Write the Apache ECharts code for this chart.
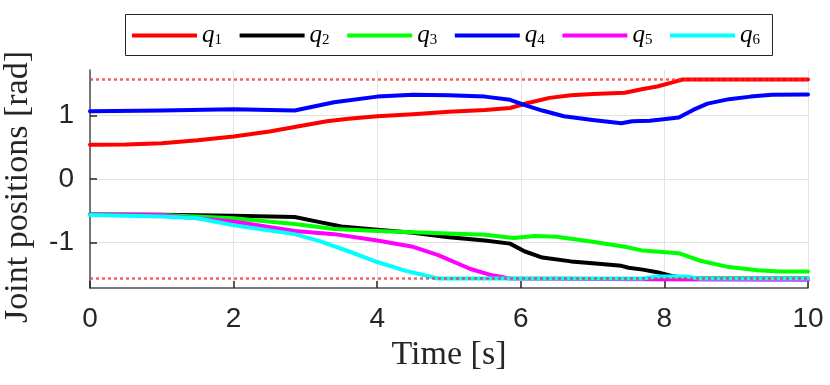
<!DOCTYPE html>
<html>
<head>
<meta charset="utf-8">
<script src="https://cdn.jsdelivr.net/npm/echarts@6/dist/echarts.min.js"></script>
<style>
    html, body { margin: 0; padding: 0; background: #fff; }
    #chart { width: 830px; height: 385px; }
</style>
</head>
<body>
<div id="chart"></div>
<script>
    // joint trajectories, [time (s), angle (rad)]
    var q1 = [[0, 0.54], [0.5, 0.545], [1, 0.565], [1.5, 0.61], [2, 0.67], [2.5, 0.75], [2.85, 0.82],
        [3.3, 0.91], [3.6, 0.95], [4, 0.99], [4.5, 1.02], [5, 1.06], [5.5, 1.09], [5.85, 1.12],
        [6.1, 1.2], [6.4, 1.28], [6.7, 1.32], [7, 1.34], [7.45, 1.36], [7.7, 1.42], [7.9, 1.46],
        [8.1, 1.52], [8.25, 1.57], [10, 1.57]]
    var q2 = [[0, -0.56], [1, -0.565], [2, -0.58], [2.85, -0.6], [3.2, -0.68], [3.5, -0.75], [4, -0.8],
        [4.5, -0.85], [5, -0.92], [5.5, -0.97], [5.85, -1.02], [6.05, -1.14], [6.3, -1.24], [6.7, -1.3],
        [7, -1.33], [7.4, -1.37], [7.5, -1.4], [7.7, -1.43], [7.9, -1.47], [8.1, -1.53], [8.3, -1.57],
        [10, -1.57]]
    var q3 = [[0, -0.56], [1, -0.57], [2, -0.62], [2.85, -0.71], [3.4, -0.79], [4, -0.82], [4.5, -0.84],
        [5, -0.86], [5.5, -0.88], [5.9, -0.93], [6.2, -0.9], [6.5, -0.91], [7, -0.99], [7.45, -1.07],
        [7.7, -1.13], [8.2, -1.17], [8.5, -1.29], [8.9, -1.39], [9.3, -1.44], [9.6, -1.46], [10, -1.46]]
    var q4 = [[0, 1.07], [1, 1.08], [2, 1.1], [2.85, 1.08], [3.1, 1.14], [3.4, 1.21], [4, 1.3], [4.5, 1.33],
        [5, 1.32], [5.5, 1.3], [5.85, 1.25], [6.1, 1.15], [6.3, 1.08], [6.6, 0.99], [7, 0.93], [7.4, 0.88],
        [7.55, 0.91], [7.8, 0.92], [8.2, 0.97], [8.4, 1.09], [8.6, 1.19], [8.9, 1.26], [9.2, 1.3],
        [9.5, 1.33], [10, 1.335]]
    var q5 = [[0, -0.56], [1, -0.57], [2, -0.67], [2.85, -0.82], [3.4, -0.87], [4, -0.97], [4.5, -1.07],
        [4.85, -1.2], [5.3, -1.42], [5.6, -1.52], [5.85, -1.57], [7.8, -1.58], [10, -1.59]]
    var q6 = [[0, -0.57], [1, -0.59], [1.5, -0.62], [2, -0.73], [2.85, -0.87], [3.2, -0.98], [3.6, -1.14],
        [4, -1.31], [4.4, -1.45], [4.85, -1.57], [7.7, -1.57], [7.9, -1.54], [8.3, -1.54], [8.5, -1.57],
        [10, -1.57]]
    // joint limits +-pi/2
    var qMax = [[0, 1.5708], [10, 1.5708]]
    var qMin = [[0, -1.5708], [10, -1.5708]]

    var names = ['q1', 'q2', 'q3', 'q4', 'q5', 'q6']
    var colors = ['#ff0000', '#000000', '#00ff00', '#0000ff', '#ff00ff', '#00ffff']
    var trajectories = [q1, q2, q3, q4, q5, q6]
    var yTicks = [-1, 0, 1]

    var serif = '"Liberation Serif", "DejaVu Serif", serif'
    var sans = '"Liberation Sans", Arial, sans-serif'

    var series = []
    for (let i = 0; i < names.length; i++) {
        series.push({
            name: names[i],
            type: 'line',
            data: trajectories[i],
            showSymbol: false,
            symbol: 'none',
            color: colors[i],
            lineStyle: { width: 4, color: colors[i], cap: 'round', join: 'round' },
            z: 2 + i
        })
    }
    // dotted limit lines, drawn last
    var limits = [qMax, qMin]
    for (let j = 0; j < limits.length; j++) {
        series.push({
            type: 'line',
            data: limits[j],
            showSymbol: false,
            symbol: 'none',
            silent: true,
            lineStyle: { width: 2.5, color: 'rgba(255,40,40,0.75)', type: [3, 3] },
            z: 10
        })
    }

    var chart = echarts.init(document.getElementById('chart'))
    chart.setOption({
        animation: false,
        backgroundColor: '#fff',
        // legend frame
        graphic: [{
            type: 'rect',
            left: 125,
            top: 14,
            z: 0,
            shape: { width: 647, height: 41 },
            style: { fill: '#fff', stroke: '#262626', lineWidth: 1 }
        }],
        legend: {
            data: names,
            left: 125,
            top: 14,
            z: 5,
            orient: 'horizontal',
            icon: 'rect',
            itemWidth: 65,
            itemHeight: 4,
            itemGap: 17.6,
            padding: [9, 0, 8, 7],
            formatter: function (name) {
                return '{q|q}{s|' + name.slice(1) + '}'
            },
            textStyle: {
                rich: {
                    q: { fontFamily: serif, fontStyle: 'italic', fontSize: 25, color: '#000', lineHeight: 24 },
                    s: { fontFamily: serif, fontSize: 15, color: '#000', padding: [10, 0, 0, 0], lineHeight: 24 }
                }
            }
        },
        grid: {
            left: 90,
            right: 22,
            top: 70,
            bottom: 97,
            containLabel: false,
            outerBoundsMode: 'none'
        },
        xAxis: {
            type: 'value',
            min: 0,
            max: 10,
            interval: 2,
            name: 'Time [s]',
            nameLocation: 'middle',
            nameGap: 47,
            nameTextStyle: { fontFamily: serif, fontSize: 34, color: '#262626' },
            axisLine: { show: true, onZero: false, lineStyle: { color: '#4d4d4d', width: 1.5 } },
            axisTick: { show: true, inside: true, length: 7, lineStyle: { color: '#262626', width: 1.5 } },
            axisLabel: { fontFamily: sans, fontSize: 28, color: '#262626', margin: 17 },
            splitLine: { show: true, lineStyle: { color: '#e3e3e3', width: 1 } }
        },
        yAxis: {
            type: 'value',
            min: -1.72,
            max: 1.72,
            name: 'Joint positions [rad]',
            nameLocation: 'middle',
            nameGap: 55,
            nameTextStyle: { fontFamily: serif, fontSize: 34, color: '#262626', padding: [0, 16, 0, 0] },
            axisLine: { show: true, onZero: false, lineStyle: { color: '#4d4d4d', width: 1.5 } },
            axisTick: {
                show: true,
                inside: true,
                length: 7,
                customValues: yTicks,
                lineStyle: { color: '#262626', width: 1.5 }
            },
            axisLabel: {
                fontFamily: sans,
                fontSize: 28,
                color: '#262626',
                margin: 16,
                customValues: yTicks
            },
            splitLine: { show: true, lineStyle: { color: '#e3e3e3', width: 1 } }
        },
        series: series
    })
</script>
</body>
</html>
